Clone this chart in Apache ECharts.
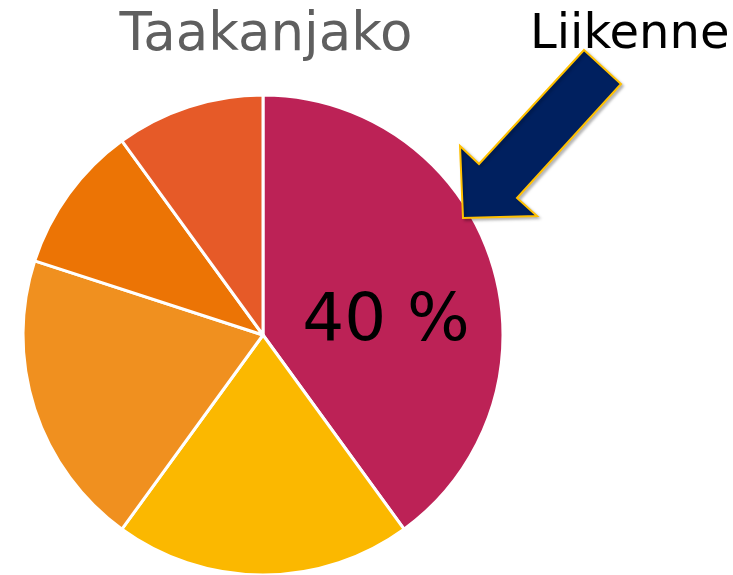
<!DOCTYPE html>
<html>
<head>
<meta charset="utf-8">
<title>Taakanjako</title>
<script src="https://cdn.jsdelivr.net/npm/echarts@6/dist/echarts.min.js"></script>
<style>
  html, body { margin: 0; padding: 0; background: #fff; }
  #main { width: 733px; height: 575px; }
</style>
</head>
<body>
<div id="main"></div>
<script>
// data
var categories = ['Liikenne', 'Osuus 2', 'Osuus 3', 'Osuus 4', 'Osuus 5'];
var shares = [40, 20, 20, 10, 10];
var colors = ['#bc2256', '#fbb800', '#f0901f', '#ec7405', '#e65a28'];
var labelText = '40 %';

var pieData = categories.map(function (name, i) {
    var item = { name: name, value: shares[i], itemStyle: { color: colors[i] } };
    // only the big slice gets its label
    if (i === 0) {
        item.label = { show: true };
    }
    return item;
});

var option = {
    animation: false,
    title: {
        text: 'Taakanjako',
        left: 261,
        top: 5,
        textAlign: 'center',
        textStyle: {
            fontFamily: 'DejaVu Sans',
            fontSize: 53,
            fontWeight: 'normal',
            color: '#5f5f5f'
        }
    },
    graphic: [
        {
            type: 'text',
            left: 530,
            top: 12,
            style: {
                text: 'Liikenne',
                font: '48px "DejaVu Sans"',
                fill: '#000'
            }
        },
        {
            // arrow pointing at the traffic slice
            type: 'polygon',
            shape: {
                points: [[584, 50], [621, 84], [517, 198], [537, 216], [463, 218], [460, 146], [479, 164]]
            },
            style: {
                fill: '#00205f',
                stroke: '#ffc000',
                lineWidth: 2,
                shadowBlur: 3,
                shadowOffsetX: 2,
                shadowOffsetY: 2,
                shadowColor: 'rgba(0,0,0,0.25)'
            },
            z: 10
        }
    ],
    series: [{
        type: 'pie',
        center: [263, 335],
        radius: [0, 240],
        startAngle: 90,
        clockwise: true,
        data: pieData,
        itemStyle: { borderColor: '#fff', borderWidth: 3 },
        label: {
            show: false,
            position: 'inside',
            formatter: function () { return labelText; },
            fontFamily: 'DejaVu Sans',
            fontSize: 66,
            color: '#000',
            offset: [6, 26]
        },
        labelLine: { show: false },
        emphasis: { disabled: true }
    }]
};

var myChart = echarts.init(document.getElementById('main'));
myChart.setOption(option);
</script>
</body>
</html>
